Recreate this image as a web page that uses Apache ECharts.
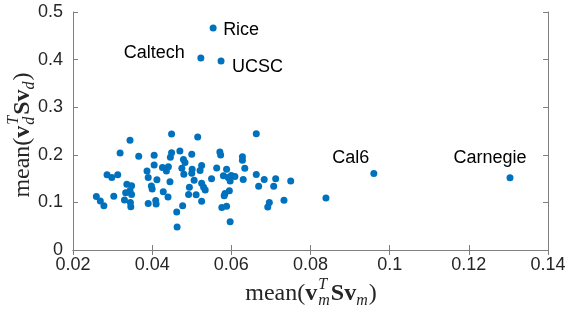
<!DOCTYPE html>
<html>
<head>
<meta charset="utf-8">
<script src="https://cdn.jsdelivr.net/npm/echarts@6/dist/echarts.min.js"></script>
<style>html,body{margin:0;padding:0;background:#fff}#c{width:581px;height:310px}</style>
</head>
<body>
<div id="c"></div>
<script>
// ---- data ----
var clusterX = [
0.0259,0.0269,0.0278,0.0303,0.0286,0.0298,0.0313,0.0319,0.0344,0.0366,
0.0336,0.0348,0.0344,0.0333,0.0348,0.0330,0.0345,0.0346,0.0405,0.0405,
0.0387,0.0390,0.0426,0.0436,0.0412,0.0398,0.0400,0.0428,0.0440,0.0390,
0.0409,0.0410,0.0449,0.0449,0.0446,0.0441,0.0445,0.0470,0.0500,0.0479,
0.0483,0.0475,0.0501,0.0500,0.0480,0.0515,0.0525,0.0521,0.0506,0.0525,
0.0530,0.0534,0.0494,0.0492,0.0511,0.0525,0.0477,0.0462,0.0463,0.0571,
0.0573,0.0563,0.0550,0.0588,0.0580,0.0592,0.0600,0.0609,0.0597,0.0584,
0.0595,0.0582,0.0576,0.0588,0.0597,0.0628,0.0628,0.0634,0.0630,0.0663,
0.0663,0.0683,0.0712,0.0750,0.0669,0.0707,0.0696,0.0692,0.0733,0.0839];
var clusterY = [
0.1124,0.1029,0.0931,0.1130,0.1582,0.1523,0.1582,0.2038,0.2305,0.1968,
0.1382,0.1349,0.1246,0.1204,0.1166,0.1050,0.0998,0.0908,0.1992,0.1786,
0.1660,0.1523,0.1733,0.1660,0.1477,0.1345,0.1282,0.1225,0.1113,0.0977,
0.1040,0.0966,0.2437,0.2042,0.1947,0.1750,0.1433,0.2080,0.2013,0.1901,
0.1838,0.1716,0.1695,0.1611,0.1590,0.2374,0.1775,0.1670,0.1464,0.1401,
0.1319,0.1261,0.1317,0.1164,0.1162,0.1023,0.0929,0.0798,0.0483,0.2059,
0.1996,0.1723,0.1496,0.1697,0.1561,0.1523,0.1565,0.1544,0.1450,0.1187,
0.1246,0.1139,0.0893,0.0918,0.0595,0.1958,0.1884,0.1716,0.1479,0.2443,
0.1586,0.1481,0.1496,0.1450,0.1338,0.1338,0.0998,0.0903,0.1044,0.1092];
var labelNames = ['Rice','Caltech','UCSC','Cal6','Carnegie'];
var labelX = [0.0554,0.0523,0.0574,0.0960,0.1304];
var labelY = [0.4664,0.4034,0.3971,0.1607,0.1519];
var xTicks = {min:0.02, max:0.14, interval:0.02};
var yTicks = {min:0, max:0.5, interval:0.1};

// ---- styles / layout ----
var DOT = '#0072BD';
var AX = '#7f7f7f';
var TXT = '#262626';
var SANS = '"Liberation Sans", Arial, sans-serif';
var SERIF = '"Liberation Serif", "DejaVu Serif", serif';
var SYM = 7;
// offsets of label anchor from the dot centre (px)
var labelLayout = {
  Rice:     {align:'left',   dx:10,  dy:2},
  Caltech:  {align:'right',  dx:-16, dy:-5},
  UCSC:     {align:'left',   dx:11,  dy:6},
  Cal6:     {align:'center', dx:-23, dy:-15},
  Carnegie: {align:'center', dx:-20, dy:-20}
};

function fmt(v){ return String(+v.toFixed(2)); }

var measureCtx = document.createElement('canvas').getContext('2d');
function mathTitle(parts, cx, cy, rotation){
  var x = 0, prevX0 = 0, prevW = 0, items = [];
  parts.forEach(function(p){
    var font = (p.style||'normal') + ' ' + (p.weight||'normal') + ' ' + p.size + 'px ' + SERIF;
    measureCtx.font = font;
    var w = measureCtx.measureText(p.t).width;
    var x0;
    if (p.stack){ x0 = prevX0; var adv = Math.max(prevW, w); x = prevX0 + adv; prevW = adv; }
    else { x0 = x + (p.pad||0); x = x0 + w; prevX0 = x0; prevW = w; }
    items.push({x0:x0, p:p, font:font});
  });
  var total = x;
  var children = items.map(function(it){
    return {type:'text', x: it.x0 - total/2, y: it.p.dy||0,
      style:{text: it.p.t, font: it.font, fill: TXT, align:'left', verticalAlign:'middle'}};
  });
  return {type:'group', x:cx, y:cy, rotation:rotation||0, children:children, silent:true};
}
var FS = 24, SS = 16;
var xTitleParts = [
  {t:'mean(', size:FS},
  {t:'v', size:FS, weight:'bold'},
  {t:'T', size:SS, style:'italic', dy:-9, pad:1},
  {t:'m', size:SS, style:'italic', dy:7, stack:true},
  {t:'Sv', size:FS, weight:'bold', pad:1},
  {t:'m', size:SS, style:'italic', dy:7},
  {t:')', size:FS, pad:1}
];
var yTitleParts = [
  {t:'mean(', size:FS},
  {t:'v', size:FS, weight:'bold'},
  {t:'T', size:SS, style:'italic', dy:-9, pad:1},
  {t:'d', size:SS, style:'italic', dy:7, stack:true},
  {t:'Sv', size:FS, weight:'bold', pad:1},
  {t:'d', size:SS, style:'italic', dy:7},
  {t:')', size:FS, pad:1}
];

function axisCommon(showLabel){
  return {
    axisLine:{show:true, lineStyle:{color:AX, width:1}},
    axisTick:{show:true, inside:true, length:5, lineStyle:{color:AX}},
    splitLine:{show:false},
    axisLabel:{show:showLabel, color:TXT, fontFamily:SANS, fontSize:18, formatter:fmt}
  };
}
var xa0 = Object.assign({type:'value', position:'bottom'}, xTicks, axisCommon(true));
xa0.axisLabel.margin = 6;
var xa1 = Object.assign({type:'value', position:'top'}, xTicks, axisCommon(false));
var ya0 = Object.assign({type:'value', position:'left'}, yTicks, axisCommon(true));
ya0.axisLabel.margin = 10;
var ya1 = Object.assign({type:'value', position:'right'}, yTicks, axisCommon(false));

var clusterData = clusterX.map(function(x,i){ return [x, clusterY[i]]; });
var labelData = labelNames.map(function(n,i){
  var L = labelLayout[n];
  return {name:n, value:[labelX[i], labelY[i]],
    label:{show:true, position:[SYM/2 + L.dx, SYM/2 + L.dy], formatter:n, align:L.align, verticalAlign:'middle',
      color:'#000', fontFamily:SANS, fontSize:18}};
});

var chart = echarts.init(document.getElementById('c'), null, {renderer:'canvas'});
chart.setOption({
  animation:false,
  backgroundColor:'#fff',
  grid:{left:73, right:33, top:12, bottom:60, containLabel:false},
  xAxis:[xa0, xa1],
  yAxis:[ya0, ya1],
  series:[
    {type:'scatter', xAxisIndex:0, yAxisIndex:0, data:clusterData, symbol:'circle', symbolSize:SYM,
     itemStyle:{color:DOT, opacity:1}, silent:true},
    {type:'scatter', xAxisIndex:0, yAxisIndex:0, data:labelData, symbol:'circle', symbolSize:SYM,
     itemStyle:{color:DOT, opacity:1}, silent:true, labelLayout:{hideOverlap:false}}
  ],
  graphic:[
    mathTitle(xTitleParts, 311, 294, 0),
    mathTitle(yTitleParts, 23, 135, Math.PI/2)
  ]
});
</script>
</body>
</html>
